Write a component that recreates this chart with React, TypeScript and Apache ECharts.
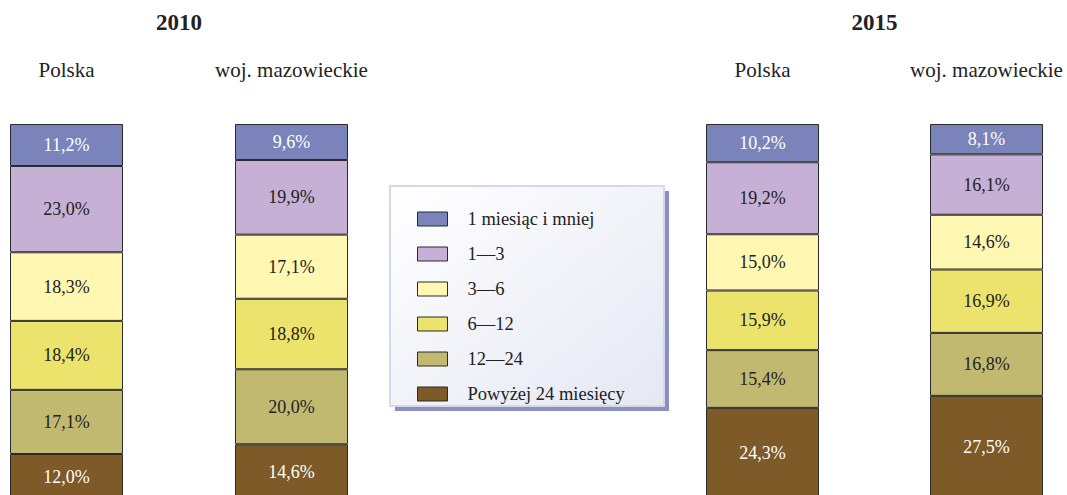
import React, { useEffect, useRef } from "react";
import * as echarts from "echarts";

const barNames = ["Polska", "woj. mazowieckie", "Polska", "woj. mazowieckie"];
const years = ["2010", "2015"];
const durations = ["1 miesiąc i mniej", "1—3", "3—6", "6—12", "12—24", "Powyżej 24 miesięcy"];
const d1 = [11.2, 9.6, 10.2, 8.1];
const d2 = [23.0, 19.9, 19.2, 16.1];
const d3 = [18.3, 17.1, 15.0, 14.6];
const d4 = [18.4, 18.8, 15.9, 16.9];
const d5 = [17.1, 20.0, 15.4, 16.8];
const d6 = [12.0, 14.6, 24.3, 27.5];
const seriesValues = [d1, d2, d3, d4, d5, d6];
const colors = ["#7a84bb", "#c6b0d6", "#fff7b2", "#ece36c", "#c2b971", "#7d5a28"];
const labelColors = ["#ffffff", "#222222", "#222222", "#222222", "#222222", "#ffffff"];

const barLefts = [10, 235, 706, 930];
const barW = 113;
const FONT = "Liberation Serif, serif";

export default function App() {
  const ref = useRef<HTMLDivElement>(null);
  useEffect(() => {
    const chart = echarts.init(ref.current!, null, { renderer: "svg" });
    const grid = barLefts.map((l) => ({ left: l, width: barW, top: 124, bottom: 11 }));
    const xAxis = barNames.map((n, i) => ({
      type: "category",
      gridIndex: i,
      data: [n],
      position: "top",
      axisLine: { show: false },
      axisTick: { show: false },
      axisLabel: { margin: 44, fontSize: 21, color: "#222", fontFamily: FONT, interval: 0 },
    }));
    const yAxis = barNames.map((_, i) => ({
      type: "value",
      gridIndex: i,
      min: 0,
      max: 100,
      inverse: true,
      show: false,
    }));
    const series: any[] = [];
    barNames.forEach((_, bi) => {
      durations.forEach((d, si) => {
        series.push({
          type: "bar",
          name: d,
          xAxisIndex: bi,
          yAxisIndex: bi,
          stack: "s" + bi,
          barWidth: "100%",
          data: [seriesValues[si][bi]],
          itemStyle: { color: colors[si], borderColor: "#2a2a2a", borderWidth: 1 },
          label: {
            show: true,
            position: "inside",
            fontFamily: FONT,
            fontSize: 18,
            color: labelColors[si],
            formatter: (p: any) => p.value.toFixed(1).replace(".", ",") + "%",
          },
        });
      });
    });
    const centers = barLefts.map((l) => l + barW / 2);
    chart.setOption({
      animation: false,
      textStyle: { fontFamily: FONT },
      grid,
      xAxis,
      yAxis,
      series,
      legend: {
        data: durations,
        orient: "vertical",
        left: 417,
        top: 209,
        padding: 0,
        itemWidth: 30,
        itemHeight: 14,
        itemGap: 15,
        icon: "rect",
        selectedMode: false,
        itemStyle: { borderColor: "#2a2a2a", borderWidth: 1 },
        textStyle: { fontFamily: FONT, fontSize: 18.5, color: "#222", lineHeight: 20, padding: [0, 0, 0, 15] },
      },
      graphic: [
        {
          type: "rect",
          z: -10,
          shape: { x: 395, y: 191, width: 274, height: 220 },
          style: { fill: "#8a90c2" },
        },
        {
          type: "rect",
          z: -9,
          shape: { x: 390, y: 186, width: 274, height: 220 },
          style: {
            fill: new echarts.graphic.LinearGradient(0, 0, 1, 1, [
              { offset: 0, color: "#ffffff" },
              { offset: 1, color: "#e4e8f3" },
            ]),
            stroke: "#d4d8e8",
            lineWidth: 2,
          },
        },
        {
          type: "text",
          x: (centers[0] + centers[1]) / 2,
          y: 22,
          style: { text: years[0], fontFamily: FONT, fontWeight: "bold", fontSize: 23, fill: "#222", align: "center", verticalAlign: "middle" },
        },
        {
          type: "text",
          x: (centers[2] + centers[3]) / 2,
          y: 22,
          style: { text: years[1], fontFamily: FONT, fontWeight: "bold", fontSize: 23, fill: "#222", align: "center", verticalAlign: "middle" },
        },
      ],
    });
    return () => chart.dispose();
  }, []);
  return (
    <div style={{ position: "absolute", left: 0, top: 0, width: 1067, height: 495, overflow: "hidden" }}>
      <div ref={ref} style={{ width: 1067, height: 510 }} />
    </div>
  );
}
